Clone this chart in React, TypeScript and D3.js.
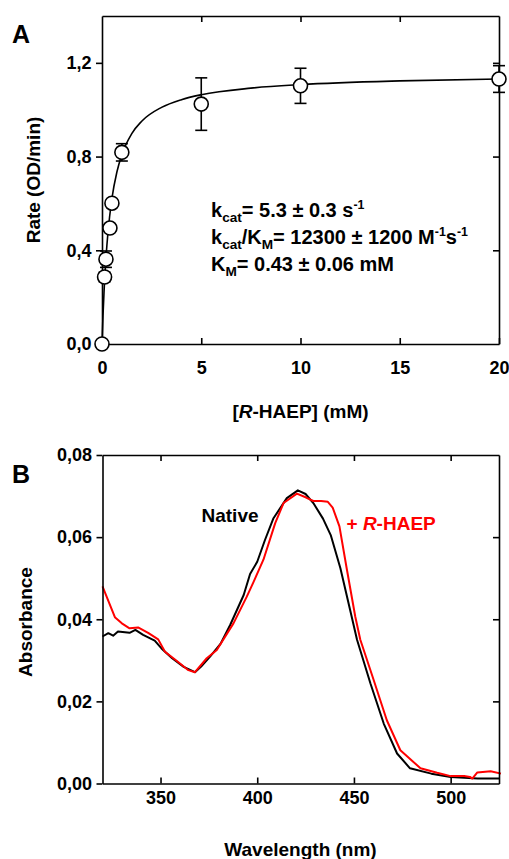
import React, { useRef, useEffect } from 'react';
import * as d3 from 'd3';

// Panel A: kinetics, [R-HAEP] (mM) vs rate
const conc = [0, 0.13, 0.2, 0.4, 0.5, 1, 5, 10, 20];
const rate = [0, 0.286, 0.362, 0.495, 0.601, 0.818, 1.024, 1.102, 1.131];
const rateErr = [0, 0.02, 0.035, 0.015, 0.01, 0.037, 0.112, 0.075, 0.057];

// fitted Michaelis-Menten curve
const fitConc = [0, 0.05, 0.1, 0.2, 0.3, 0.5, 0.75, 1, 1.5, 2, 3, 4, 5, 7.5, 10, 15, 20];
const fitRate = [0, 0.12, 0.218, 0.367, 0.475, 0.621, 0.734, 0.808, 0.898, 0.951, 1.01, 1.043, 1.064, 1.092, 1.107, 1.123, 1.131];

const aTicksX = [0, 5, 10, 15, 20];
const aTicksY = [0, 0.4, 0.8, 1.2];

// Panel B: spectra
const nativeWl = [320, 323, 325.5, 328, 334, 337, 341, 347, 350.5, 356, 362, 367.8, 371, 375.6, 381, 386, 393, 396.3, 400, 404, 408.4, 415.3, 421, 425, 429, 434, 438, 443, 448, 451.6, 458.5, 465.4, 472.3, 479, 490, 500, 514, 525];
const nativeAbs = [0.0358, 0.0366, 0.036, 0.037, 0.0367, 0.0374, 0.0362, 0.0348, 0.0329, 0.0305, 0.0284, 0.0271, 0.0285, 0.0309, 0.034, 0.0386, 0.0459, 0.051, 0.054, 0.0593, 0.0646, 0.0695, 0.0714, 0.0705, 0.0683, 0.0645, 0.0605, 0.0524, 0.0423, 0.035, 0.0244, 0.0146, 0.0073, 0.0037, 0.0024, 0.0016, 0.0012, 0.0012];

const haepWl = [320, 326.4, 330, 334, 338.4, 343.6, 348.8, 352.3, 358.3, 364.4, 367.8, 373.9, 379.1, 387.7, 394.6, 398, 403.2, 409.3, 413.6, 420.5, 425, 429, 433, 436.5, 439, 442.5, 446.4, 450.7, 453.3, 460.2, 467, 474, 484.4, 493, 500, 507, 510, 511.2, 513.8, 520.7, 526];
const haepAbs = [0.048, 0.0405, 0.039, 0.0378, 0.038, 0.0367, 0.0351, 0.0321, 0.0299, 0.0276, 0.0271, 0.0305, 0.0325, 0.039, 0.0455, 0.049, 0.0545, 0.0634, 0.0683, 0.0706, 0.0697, 0.0688, 0.0688, 0.0686, 0.0672, 0.0626, 0.052, 0.0406, 0.035, 0.0252, 0.0154, 0.0081, 0.0037, 0.0026, 0.0018, 0.0018, 0.0016, 0.0012, 0.0027, 0.003, 0.0024];

const bTicksX = [350, 400, 450, 500];
const bTicksY = [0, 0.02, 0.04, 0.06, 0.08];

const FONT = "'Liberation Sans', Arial, Helvetica, sans-serif";
const RED = '#ff0000';

type Run = [string, 'n' | 'sub' | 'sup' | 'i'];

function richText(g: any, x: number, y: number, runs: Run[], size: number, fill = '#000') {
  const t = g.append('text')
    .attr('x', x).attr('y', y)
    .attr('font-family', FONT).attr('font-weight', 'bold')
    .attr('font-size', size).attr('fill', fill);
  let shift = 0;
  runs.forEach(([s, kind]) => {
    let target = 0;
    let fs = size;
    if (kind === 'sub') { target = 5; fs = size * 0.68; }
    if (kind === 'sup') { target = -8; fs = size * 0.62; }
    const sp = t.append('tspan').attr('dy', target - shift).attr('font-size', fs).text(s);
    if (kind === 'i') sp.attr('font-style', 'italic');
    shift = target;
  });
  return t;
}

function styleAxis(g: any) {
  g.select('.domain').attr('stroke', '#000').attr('stroke-width', 1.6);
  g.selectAll('.tick line').attr('stroke', '#000').attr('stroke-width', 1.6);
  g.selectAll('.tick text')
    .attr('font-family', FONT).attr('font-weight', 'bold')
    .attr('font-size', 18).attr('fill', '#000');
}

function Chart() {
  const svgRef = useRef<SVGSVGElement>(null);

  useEffect(() => {
    const svg = d3.select(svgRef.current);
    svg.selectAll('*').remove();

    // ---------- Panel A ----------
    const xA = d3.scaleLinear().domain([0, 20]).range([102, 499]);
    const yA = d3.scaleLinear().domain([0, 1.4]).range([344, 16]);
    const fmtA = (d: any) => d3.format('.1f')(d).replace('.', ',');

    const gA = svg.append('g');

    gA.append('g').attr('transform', 'translate(0,16)')
      .call(d3.axisTop(xA).tickValues([5, 10, 15]).tickSize(-6).tickSizeOuter(0).tickFormat(() => ''))
      .call(styleAxis);
    gA.append('g').attr('transform', 'translate(499,0)')
      .call(d3.axisRight(yA).tickValues([0.4, 0.8, 1.2]).tickSize(-6).tickSizeOuter(0).tickFormat(() => ''))
      .call(styleAxis);
    gA.append('g').attr('transform', 'translate(0,344)')
      .call(d3.axisBottom(xA).tickValues(aTicksX).tickSize(-6).tickSizeOuter(0).tickPadding(17).tickFormat(d3.format('d') as any))
      .call(styleAxis);
    gA.append('g').attr('transform', 'translate(102,0)')
      .call(d3.axisLeft(yA).tickValues(aTicksY).tickSize(6).tickSizeOuter(0).tickPadding(4.5).tickFormat(fmtA))
      .call(styleAxis);

    const fit = d3.line<number>()
      .x((d, i) => xA(fitConc[i]))
      .y(d => yA(d))
      .curve(d3.curveMonotoneX);
    gA.append('path').datum(fitRate).attr('d', fit)
      .attr('fill', 'none').attr('stroke', '#000').attr('stroke-width', 1.6);

    const pts = conc.map((c, i) => ({ c, r: rate[i], e: rateErr[i] }));
    const eb = gA.append('g').attr('stroke', '#000').attr('stroke-width', 1.6);
    pts.filter(p => p.e > 0).forEach(p => {
      eb.append('line').attr('x1', xA(p.c)).attr('x2', xA(p.c)).attr('y1', yA(p.r - p.e)).attr('y2', yA(p.r + p.e));
      [p.r - p.e, p.r + p.e].forEach(v => {
        eb.append('line').attr('x1', xA(p.c) - 6).attr('x2', xA(p.c) + 6).attr('y1', yA(v)).attr('y2', yA(v));
      });
    });
    gA.selectAll('circle.pt').data(pts).enter().append('circle')
      .attr('cx', d => xA(d.c)).attr('cy', d => yA(d.r)).attr('r', 7)
      .attr('fill', '#fff').attr('stroke', '#000').attr('stroke-width', 1.6);

    gA.append('text').attr('x', 12).attr('y', 43)
      .attr('font-family', FONT).attr('font-weight', 'bold').attr('font-size', 25).text('A');

    gA.append('text').attr('transform', 'translate(40,180) rotate(-90)')
      .attr('text-anchor', 'middle')
      .attr('font-family', FONT).attr('font-weight', 'bold').attr('font-size', 19)
      .text('Rate (OD/min)');

    richText(gA, 300.5, 418, [['[', 'n'], ['R', 'i'], ['-HAEP] (mM)', 'n']], 19)
      .attr('text-anchor', 'middle');

    richText(gA, 211, 217, [['k', 'n'], ['cat', 'sub'], ['= 5.3 ± 0.3 s', 'n'], ['-1', 'sup']], 20);
    richText(gA, 211, 244, [['k', 'n'], ['cat', 'sub'], ['/K', 'n'], ['M', 'sub'], ['= 12300 ± 1200 M', 'n'], ['-1', 'sup'], ['s', 'n'], ['-1', 'sup']], 20);
    richText(gA, 211, 271, [['K', 'n'], ['M', 'sub'], ['= 0.43 ± 0.06 mM', 'n']], 20);

    // ---------- Panel B ----------
    const xB = d3.scaleLinear().domain([320, 525]).range([102.5, 499]);
    const yB = d3.scaleLinear().domain([0, 0.08]).range([783.5, 455]);
    const fmtB = (d: any) => d3.format('.2f')(d).replace('.', ',');

    const gB = svg.append('g');

    gB.append('path')
      .attr('d', d3.line<number>().x(d => xB(d)).y((d, i) => yB(nativeAbs[i]))(nativeWl))
      .attr('fill', 'none').attr('stroke', '#000').attr('stroke-width', 2).attr('stroke-linejoin', 'round');
    gB.append('path')
      .attr('d', d3.line<number>().x(d => xB(d)).y((d, i) => yB(haepAbs[i]))(haepWl))
      .attr('fill', 'none').attr('stroke', RED).attr('stroke-width', 2).attr('stroke-linejoin', 'round');

    gB.append('g').attr('transform', 'translate(0,455)')
      .call(d3.axisTop(xB).tickValues(bTicksX).tickSize(-6).tickSizeOuter(0).tickFormat(() => ''))
      .call(styleAxis);
    gB.append('g').attr('transform', 'translate(499,0)')
      .call(d3.axisRight(yB).tickValues([0.02, 0.04, 0.06]).tickSize(-6).tickSizeOuter(0).tickFormat(() => ''))
      .call(styleAxis);
    gB.append('g').attr('transform', 'translate(0,783.5)')
      .call(d3.axisBottom(xB).tickValues(bTicksX).tickSize(-6).tickSizeOuter(0).tickPadding(8).tickFormat(d3.format('d') as any))
      .call(styleAxis);
    gB.append('g').attr('transform', 'translate(102.5,0)')
      .call(d3.axisLeft(yB).tickValues(bTicksY).tickSize(6).tickSizeOuter(0).tickPadding(4.5).tickFormat(fmtB))
      .call(styleAxis);

    gB.append('text').attr('x', 12).attr('y', 483)
      .attr('font-family', FONT).attr('font-weight', 'bold').attr('font-size', 25).text('B');

    gB.append('text').attr('transform', 'translate(32,622) rotate(-90)')
      .attr('text-anchor', 'middle')
      .attr('font-family', FONT).attr('font-weight', 'bold').attr('font-size', 19)
      .text('Absorbance');

    gB.append('text').attr('x', 300.5).attr('y', 856).attr('text-anchor', 'middle')
      .attr('font-family', FONT).attr('font-weight', 'bold').attr('font-size', 19)
      .text('Wavelength (nm)');

    gB.append('text').attr('x', 201.5).attr('y', 522)
      .attr('font-family', FONT).attr('font-weight', 'bold').attr('font-size', 19)
      .text('Native');
    richText(gB, 346.5, 530, [['+ ', 'n'], ['R', 'i'], ['-HAEP', 'n']], 19, RED);
  }, []);

  return (
    <svg ref={svgRef} width={509} height={859}
      style={{ position: 'absolute', left: 0, top: 0, background: '#fff' }} />
  );
}

export default function App() {
  return <Chart />;
}
